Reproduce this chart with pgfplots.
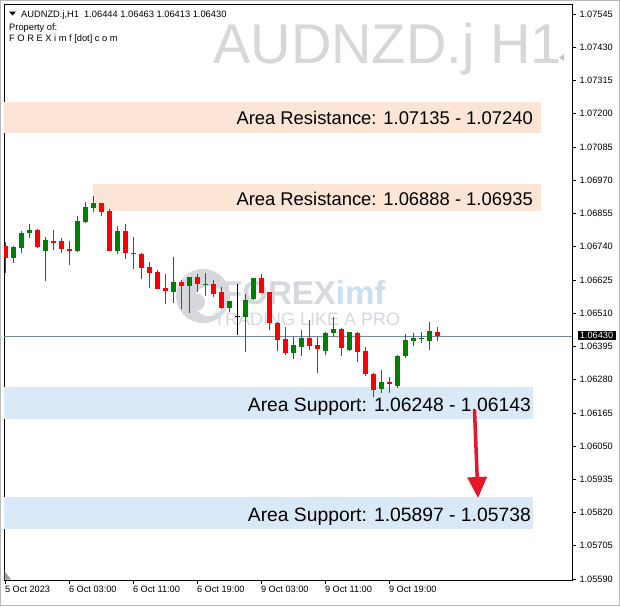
\documentclass[border=0pt]{standalone}
\usepackage{pgfplots}
\pgfplotsset{compat=1.18}
\usepackage{pgfplotstable}
\usepackage{fontspec}
\setmainfont{Liberation Sans}
\usetikzlibrary{arrows.meta}

\definecolor{bull}{RGB}{0,128,0}
\definecolor{bear}{RGB}{255,0,0}
\definecolor{resbox}{RGB}{252,228,214}
\definecolor{supbox}{RGB}{218,233,248}
\definecolor{pline}{RGB}{119,136,153}
\definecolor{wmgray}{RGB}{214,216,222}
\definecolor{wmblue}{RGB}{202,223,240}
\definecolor{titlegray}{RGB}{215,215,215}
\definecolor{arrowred}{RGB}{232,20,40}

\newcommand\tickfont{\fontsize{9.2}{10}\selectfont}
\newcommand\hdrfont{\fontsize{9.3}{10}\selectfont}

% hourly candles, AUDNZD.j H1: index, open, high, low, close
\pgfplotstableread{
i  o       h       l       c
1  1.06702 1.06742 1.06685 1.06738
2  1.06736 1.06793 1.06717 1.06786
3  1.06786 1.06819 1.06771 1.06798
5  1.06726 1.06772 1.06622 1.06763
9  1.06725 1.06846 1.06722 1.06829
10 1.06825 1.06893 1.06823 1.06878
11 1.06875 1.06916 1.06861 1.06890
14 1.06726 1.06811 1.06714 1.06794
21 1.06584 1.06704 1.06546 1.06618
23 1.06605 1.06636 1.06509 1.06634
25 1.06607 1.06650 1.06571 1.06610
28 1.06529 1.06553 1.06515 1.06552
30 1.06498 1.06576 1.06377 1.06555
31 1.06558 1.06630 1.06555 1.06630
36 1.06373 1.06426 1.06350 1.06400
37 1.06394 1.06452 1.06362 1.06424
40 1.06379 1.06446 1.06365 1.06442
41 1.06442 1.06496 1.06426 1.06455
43 1.06382 1.06446 1.06380 1.06444
47 1.06246 1.06313 1.06235 1.06273
49 1.06258 1.06365 1.06250 1.06362
50 1.06362 1.06437 1.06354 1.06417
51 1.06415 1.06440 1.06396 1.06423
52 1.06421 1.06446 1.06406 1.06423
53 1.06415 1.06480 1.06382 1.06448
}\bullish

\pgfplotstableread{
i  o       h       l       c
0  1.06742 1.06757 1.06648 1.06702
4  1.06798 1.06801 1.06736 1.06738
6  1.06760 1.06798 1.06728 1.06754
7  1.06760 1.06769 1.06719 1.06732
8  1.06732 1.06760 1.06677 1.06726
12 1.06890 1.06892 1.06847 1.06861
13 1.06863 1.06869 1.06726 1.06726
15 1.06794 1.06818 1.06698 1.06717
16 1.06719 1.06772 1.06663 1.06714
17 1.06715 1.06719 1.06629 1.06667
18 1.06669 1.06687 1.06598 1.06650
19 1.06653 1.06659 1.06595 1.06595
20 1.06597 1.06645 1.06541 1.06586
22 1.06618 1.06625 1.06523 1.06605
24 1.06634 1.06644 1.06584 1.06610
26 1.06611 1.06625 1.06567 1.06575
27 1.06582 1.06599 1.06523 1.06529
32 1.06630 1.06645 1.06579 1.06581
33 1.06582 1.06584 1.06452 1.06475
34 1.06477 1.06480 1.06380 1.06417
35 1.06420 1.06461 1.06365 1.06373
38 1.06425 1.06486 1.06382 1.06397
39 1.06400 1.06428 1.06302 1.06385
42 1.06455 1.06457 1.06362 1.06388
44 1.06441 1.06444 1.06342 1.06377
45 1.06379 1.06392 1.06292 1.06299
46 1.06299 1.06302 1.06221 1.06244
48 1.06273 1.06288 1.06235 1.06265
54 1.06444 1.06463 1.06413 1.06430
}\bearish

\pgfplotstableread{
i  o       h       l       c
29 1.06498 1.06611 1.06434 1.06498
}\doji

\begin{document}
\begin{tikzpicture}
\useasboundingbox (0pt,0pt) rectangle (620pt,-606pt);
\fill[white] (0pt,0pt) rectangle (620pt,-606pt);

% watermark
\begin{scope}[x=1pt,y=-1pt]
  \fill[wmgray] (203,296) circle (27);
  \fill[white] (209,301) circle (15);
  \fill[wmgray] (196,302) circle (9);
  \node[anchor=base west, inner sep=0, font=\fontsize{33}{36}\selectfont\bfseries, text=wmgray] at (222,304) {FOREX\textcolor{wmblue}{imf}};
  \node[anchor=base west, inner sep=0, font=\fontsize{18}{20}\selectfont, text=wmgray] at (214,325) {TRADING LIKE A PRO};
\end{scope}

\begin{axis}[
  at={(4pt,-580pt)}, anchor=south west,
  scale only axis, width=568pt, height=576pt,
  xmin=-0.19, xmax=70.81,
  ymin=1.055866, ymax=1.075796,
  axis line style={black, line width=0.8pt},
  tick align=outside, major tick length=4pt,
  tick style={black, line width=0.6pt},
  xtick={0,8,16,24,32,40,48},
  xticklabels={5 Oct 2023, 6 Oct 03:00, 6 Oct 11:00, 6 Oct 19:00, 9 Oct 03:00, 9 Oct 11:00, 9 Oct 19:00},
  xticklabel style={anchor=north west, font=\tickfont, xshift=-4pt, yshift=1pt},
  ytick={1.05590,1.05705,1.05820,1.05935,1.06050,1.06165,1.06280,1.06395,1.06510,1.06625,1.06740,1.06855,1.06970,1.07085,1.07200,1.07315,1.07430,1.07545},
  yticklabels={1.05590,1.05705,1.05820,1.05935,1.06050,1.06165,1.06280,1.06395,1.06510,1.06625,1.06740,1.06855,1.06970,1.07085,1.07200,1.07315,1.07430,1.07545},
  yticklabel pos=right,
  yticklabel style={anchor=west, font=\tickfont, xshift=0pt},
  xtick pos=bottom, ytick pos=right,
]
  % zones
  \fill[resbox] (axis cs:-1,1.07135) rectangle (axis cs:66.94,1.07240);
  \fill[resbox] (axis cs:10.94,1.06863) rectangle (axis cs:66.94,1.06957);
  \fill[supbox] (axis cs:-1,1.06145) rectangle (axis cs:65.94,1.06254);
  \fill[supbox] (axis cs:-1,1.05763) rectangle (axis cs:65.94,1.05874);
  % bid line
  \draw[pline, line width=0.8pt] (axis cs:-1,1.06430) -- (axis cs:80,1.06430);

  % wicks
  \addplot[draw=none, forget plot, error bars/.cd, y dir=plus, y explicit, error mark=none,
    error bar style={draw=bull, line width=1pt}]
    table[x=i, y=l, y error plus expr=\thisrow{h}-\thisrow{l}] {\bullish};
  \addplot[draw=none, forget plot, error bars/.cd, y dir=plus, y explicit, error mark=none,
    error bar style={draw=bear, line width=1pt}]
    table[x=i, y=l, y error plus expr=\thisrow{h}-\thisrow{l}] {\bearish};
  \addplot[draw=none, forget plot, error bars/.cd, y dir=plus, y explicit, error mark=none,
    error bar style={draw=black, line width=1pt}]
    table[x=i, y=l, y error plus expr=\thisrow{h}-\thisrow{l}] {\doji};
  % bodies
  \addplot[draw=none, forget plot, error bars/.cd, y dir=plus, y explicit, error mark=none,
    error bar style={draw=bull, line width=5pt}]
    table[x=i, y=o, y error plus expr=\thisrow{c}-\thisrow{o}] {\bullish};
  \addplot[draw=none, forget plot, error bars/.cd, y dir=plus, y explicit, error mark=none,
    error bar style={draw=bear, line width=5pt}]
    table[x=i, y=c, y error plus expr=\thisrow{o}-\thisrow{c}] {\bearish};
  \addplot[only marks, mark=-, mark size=2.5pt, black, mark options={line width=1pt}, forget plot]
    table[x=i, y=o] {\doji};
\end{axis}

\begin{scope}[x=1pt,y=-1pt]
  % outer frame
  \draw[gray!55, line width=1pt] (0.5,0.5) rectangle (619.5,605.5);
  % header
  \fill[black] (9,11.5) -- (16,11.5) -- (12.5,15.5) -- cycle;
  \node[anchor=base west, inner sep=0, font=\hdrfont] at (21,17) {AUDNZD.j,H1\ \ 1.06444 1.06463 1.06413 1.06430};
  \node[anchor=base west, inner sep=0, font=\hdrfont] at (9,30) {Property of:};
  \node[anchor=base west, inner sep=0, font=\hdrfont] at (9,41.5) {F O R E X i m f [dot] c o m};
  % big symbol title
  \node[anchor=base east, inner sep=0, font=\fontsize{56}{60}\selectfont, text=titlegray] at (562,63) {AUDNZD.j H1};
  % zone labels
  \node[anchor=base east, inner sep=0, font=\fontsize{18.4}{21}\selectfont] at (533,124.5) {Area Resistance: 1.07135 - 1.07240};
  \node[anchor=base east, inner sep=0, font=\fontsize{18.4}{21}\selectfont] at (533,205.5) {Area Resistance: 1.06888 - 1.06935};
  \node[anchor=base east, inner sep=0, font=\fontsize{19.3}{21}\selectfont] at (531,411) {Area Support: 1.06248 - 1.06143};
  \node[anchor=base east, inner sep=0, font=\fontsize{19.3}{21}\selectfont] at (531,521) {Area Support: 1.05897 - 1.05738};
  % arrow
  \draw[arrowred, line width=3.5pt, -{Triangle[width=19pt,length=21pt]}] (474.5,410) -- (478,498);
  % current price tag
  \node[fill=black, text=white, inner sep=0.6pt, minimum width=38pt, minimum height=9pt, font=\tickfont] at (596.5,335.5) {1.06430};
  % chart shift markers
  \fill[gray!75] (4.5,571) -- (4.5,579.5) -- (11,579.5) -- cycle;
  \fill[gray!45] (564,54) -- (564,61) -- (559,57.5) -- cycle;
\end{scope}
\end{tikzpicture}
\end{document}
